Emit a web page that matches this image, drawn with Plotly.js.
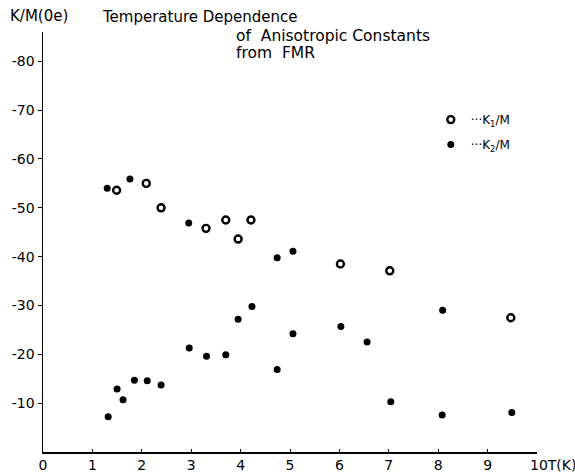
<!DOCTYPE html>
<html>
<head>
<meta charset="utf-8">
<script src="https://cdn.plot.ly/plotly-3.0.1.min.js"></script>
<style>html,body{margin:0;padding:0;background:#fff;}#chart{width:575px;height:473px;}</style>
</head>
<body>
<div id="chart"></div>
<script>
// K1/M (open circles) — temperature in units of 10 K, K/M in Oe
const k1T = [1.49, 2.09, 2.39, 3.30, 3.70, 3.95, 4.21, 6.02, 7.02, 9.47];
const k1V = [-53.6, -55.0, -50.0, -45.8, -47.5, -43.6, -47.5, -38.5, -37.1, -27.5];
// K2/M (filled dots)
const k2T = [1.30, 2.95, 1.76, 4.74, 5.06, 8.09,
             1.32, 1.50, 1.62, 1.85, 2.11, 2.39, 2.96, 3.31, 3.70, 3.95, 4.23, 4.74, 5.06, 6.03, 6.56, 7.04, 8.08, 9.49];
const k2V = [-54.0, -46.9, -55.9, -39.8, -41.1, -29.0,
             -7.2, -12.9, -10.7, -14.7, -14.6, -13.7, -21.3, -19.6, -19.9, -27.2, -29.8, -16.9, -24.2, -25.7, -22.5, -10.3, -7.6, -8.1];
const xTicks = [0, 1, 2, 3, 4, 5, 6, 7, 8, 9];
const xTickText = ['0', '1', '2', '3', '4', '5', '6', '7', '8', '9'];
const yTicks = [-10, -20, -30, -40, -50, -60, -70, -80];
const yTickText = ['-10', '-20', '-30', '-40', '-50', '-60', '-70', '-80'];

const font = 'DejaVu Sans, Liberation Sans, sans-serif';

const traces = [
  {
    x: k1T, y: k1V, mode: 'markers', type: 'scatter',
    name: '···K<sub>1</sub>/M', legendgroup: 'k1',
    marker: {symbol: 'circle', size: 7, color: '#ffffff', line: {color: '#000000', width: 2.4}},
    cliponaxis: false
  },
  {
    x: k2T, y: k2V, mode: 'markers', type: 'scatter',
    name: '···K<sub>2</sub>/M', legendgroup: 'k2',
    marker: {symbol: 'circle', size: 7, color: '#000000', line: {width: 0}},
    cliponaxis: false
  }
];

const layout = {
  width: 575, height: 473,
  margin: {l: 43, r: 38, t: 32, b: 21},
  paper_bgcolor: '#ffffff', plot_bgcolor: '#ffffff',
  font: {family: font, size: 14, color: '#000000'},
  showlegend: true,
  legend: {x: 0.785, y: 0.826, xanchor: 'left', yanchor: 'top', bgcolor: 'rgba(0,0,0,0)',
           font: {family: font, size: 12, color: '#000'}, itemwidth: 30,
           traceorder: 'grouped', tracegroupgap: 6},
  xaxis: {
    range: [0, 10], showgrid: false, zeroline: false,
    showline: true, linecolor: '#000', linewidth: 1.5,
    ticks: 'inside', ticklen: 3, tickcolor: '#000', tickwidth: 1,
    tickvals: xTicks, ticktext: xTickText, tickfont: {family: font, size: 14},
    fixedrange: true
  },
  yaxis: {
    range: [0, -86], showgrid: false, zeroline: false,
    showline: true, linecolor: '#000', linewidth: 1.5,
    ticks: 'outside', ticklen: 4, tickcolor: '#000', tickwidth: 1,
    tickvals: yTicks, ticktext: yTickText, tickfont: {family: font, size: 14},
    fixedrange: true
  },
  annotations: [
    {text: 'K/M(0e)', xref: 'paper', yref: 'paper', x: -0.07, y: 1.037, xanchor: 'left', yanchor: 'middle',
     showarrow: false, font: {family: font, size: 15}},
    {text: 'Temperature Dependence', xref: 'paper', yref: 'paper', x: 0.115, y: 1.035, xanchor: 'left', yanchor: 'middle',
     showarrow: false, font: {family: font, size: 15}},
    {text: 'of  Anisotropic Constants', xref: 'paper', yref: 'paper', x: 0.387, y: 0.99, xanchor: 'left', yanchor: 'middle',
     showarrow: false, font: {family: font, size: 15.5}},
    {text: 'from  FMR', xref: 'paper', yref: 'paper', x: 0.387, y: 0.95, xanchor: 'left', yanchor: 'middle',
     showarrow: false, font: {family: font, size: 15.5}},
    {text: '10T(K)', xref: 'x', yref: 'paper', x: 10, y: 0, xshift: -9, yshift: -3, xanchor: 'left', yanchor: 'top',
     showarrow: false, font: {family: font, size: 14}}
  ]
};

Plotly.newPlot('chart', traces, layout, {displayModeBar: false, staticPlot: true});
</script>
</body>
</html>
